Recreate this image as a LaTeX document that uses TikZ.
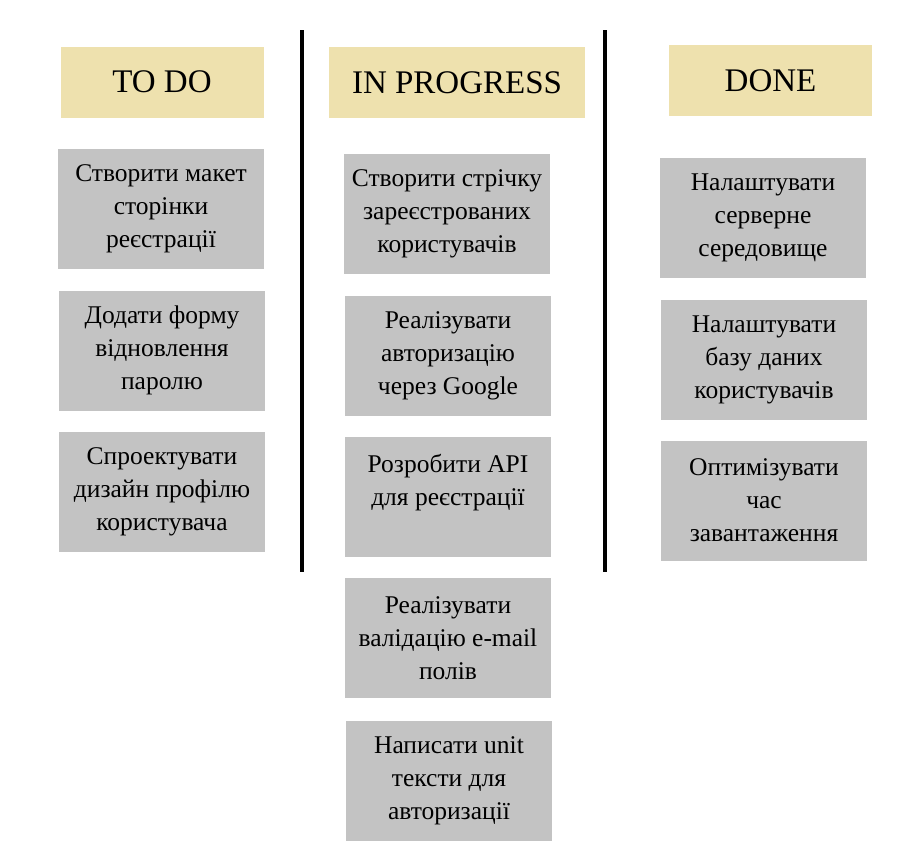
\documentclass[tikz,border=0pt]{standalone}
\usepackage{fontspec}
\setmainfont{Liberation Serif}
\usetikzlibrary{positioning}

\definecolor{headfill}{HTML}{EEE1AE}
\definecolor{taskfill}{HTML}{C3C3C3}

\begin{document}
\begin{tikzpicture}[x=1pt, y=-1pt]
	\useasboundingbox (0, 0) rectangle (906, 857);
	\begin{scope}
		\tikzstyle{every node}=[align=center, inner sep=1pt]
		\tikzstyle{head}=[fill=headfill, minimum width=203pt, minimum height=71pt, font=\fontsize{33}{38}\selectfont]
		\tikzstyle{task}=[fill=taskfill, minimum width=206pt, minimum height=120pt, font=\fontsize{25.5}{33}\selectfont]

		\node[head] (todo) at (162, 82)   {TO DO};
		\node[head, minimum width=256pt] (prog) at (457, 82.5) {IN PROGRESS};
		\node[head] (done) at (770.5, 80.5) {DONE};

		\node[task] (t1) at (161, 209)   {Створити макет\\сторінки\\реєстрації};
		\node[task] (t2) at (162, 350.5) {Додати форму\\відновлення\\паролю};
		\node[task] (t3) at (162, 491.5) {Спроектувати\\дизайн профілю\\користувача};

		\node[task] (p1) at (447, 213.5) {Створити стрічку\\зареєстрованих\\користувачів};
		\node[task] (p2) at (448, 355.5) {Реалізувати\\авторизацію\\через Google};
		\node[task] (p3) at (448, 496.5) {Розробити API\\для реєстрації\\~};
		\node[task] (p4) at (448, 638)   {Реалізувати\\валідацію e-mail\\полів};
		\node[task] (p5) at (449, 780.5) {Написати unit\\тексти для\\авторизації};

		\node[task] (d1) at (763, 218)   {Налаштувати\\серверне\\середовище};
		\node[task] (d2) at (764, 359.5) {Налаштувати\\базу даних\\користувачів};
		\node[task] (d3) at (764, 500.5) {Оптимізувати\\час\\завантаження};

		\coordinate (sa) at (302, 30);
		\coordinate (sb) at (302, 572);
		\coordinate (sc) at (605, 30);
		\coordinate (sd) at (605, 572);
		\draw [line width=4pt] (sa) to (sb);
		\draw [line width=4pt] (sc) to (sd);
	\end{scope}
\end{tikzpicture}
\end{document}
